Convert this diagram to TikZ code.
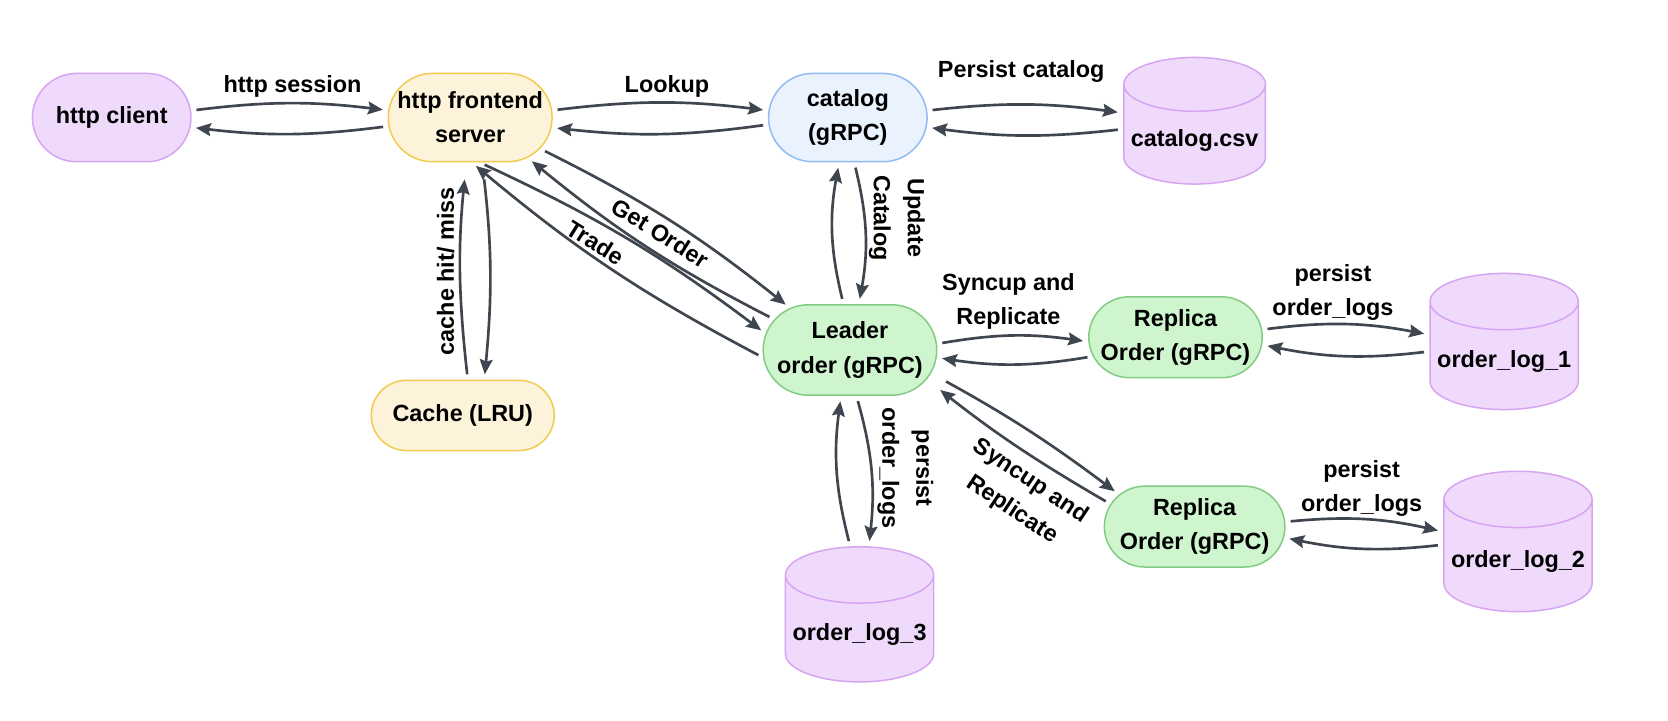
\documentclass[tikz,border=0pt]{standalone}
\usepackage{fontspec}
\setmainfont{Liberation Sans}
\usepackage{xcolor}
\usetikzlibrary{shapes.misc,shapes.geometric,arrows.meta}
\definecolor{usrfill}{HTML}{F0DAFC}
\definecolor{usrline}{HTML}{D6A4F0}
\definecolor{webfill}{HTML}{FCF3DA}
\definecolor{webline}{HTML}{F2CB4E}
\definecolor{catfill}{HTML}{EAF2FE}
\definecolor{catline}{HTML}{90BAF2}
\definecolor{ordfill}{HTML}{CFF5CF}
\definecolor{ordline}{HTML}{82CC82}
\definecolor{flowcol}{HTML}{40464F}

\begin{document}
\begin{tikzpicture}[x=0.5pt,y=-0.5pt]
%% CONFIG
\def\fontS{\bfseries\fontsize{11}{16}\selectfont}
\def\hSvc{41.5pt}

% define the styles
\tikzset{
    svc/.style={rounded rectangle, draw, line width=0.7pt, align=center, font=\fontS, inner sep=2pt},
    usr/.style={svc, fill=usrfill, draw=usrline},
    web/.style={svc, fill=webfill, draw=webline},
    cat/.style={svc, fill=catfill, draw=catline},
    ord/.style={svc, fill=ordfill, draw=ordline},
    dbstore/.style={cylinder, shape border rotate=90, aspect=0.38, draw=usrline, fill=usrfill, line width=0.7pt, font=\fontS, anchor=shape center},
    flow/.style={draw=flowcol, line width=1.25pt, -{Stealth[length=7pt,width=6pt,inset=1pt]}, shorten >=2.5pt, shorten <=2.5pt},
    lbl/.style={font=\fontS, align=center, text=black}
}

%% Macro for a pair of opposite flows
% 1: bend
% 2: node a
% 3: node b
% 4,5: anchors a -> b
% 6,7: anchors b -> a
\newcommand{\dualflow}[7][7]{
    \draw [flow] (#2.#4) to[bend left=#1] (#3.#5);
    \draw [flow] (#3.#6) to[bend left=#1] (#2.#7);
}

\fill [white] (0,0) rectangle (1568,677);
\useasboundingbox (0,0) rectangle (1568,677);

% Draw the services
\node[usr, minimum width=78.5pt, minimum height=\hSvc] (http_client) at (105,110.5) {http client};
\node[web, minimum width=81pt, minimum height=\hSvc] (http_front) at (442,110.5) {http frontend\\server};
\node[cat, minimum width=78.5pt, minimum height=\hSvc] (catalog_srv) at (797,110.5) {catalog\\(gRPC)};
\node[web, minimum width=90pt, minimum height=33pt] (cache_lru) at (435,390.5) {Cache (LRU)};
\node[ord, minimum width=80.5pt, minimum height=42.5pt] (leader_ord) at (799,329) {Leader\\order (gRPC)};
\node[ord, minimum width=85.5pt, minimum height=38pt] (replica1) at (1105,317) {Replica\\Order (gRPC)};
\node[ord, minimum width=84.5pt, minimum height=38pt] (replica2) at (1123,495) {Replica\\Order (gRPC)};

% Draw the stores
\node[dbstore, minimum width=65.75pt, minimum height=59.5pt] (catalog_csv) at (1123,113.5) {catalog.csv};
\foreach \i/\xx/\yy/\ww/\hh in {1/1414/321/68.5/64, 2/1427/509/68.5/66, 3/808/577.5/68/63.5}{
    \node[dbstore, minimum width=\ww pt, minimum height=\hh pt] (order_log\i) at (\xx,\yy) {order\_log\_\i};
}

% Connectors between services
\dualflow{http_client}{http_front}{5}{175}{186}{-7}
\dualflow{http_front}{catalog_srv}{5}{175}{185}{-7}
\dualflow{catalog_srv}{catalog_csv}{5}{159}{171}{-7}
\dualflow[12]{leader_ord}{catalog_srv}{98}{-101}{-82}{79}
\dualflow[6]{http_front}{leader_ord}{-24}{145}{158}{-35}
\dualflow[6]{http_front}{leader_ord}{-78}{169}{185}{-88}
\dualflow[9]{leader_ord}{replica1}{4}{183}{193}{-5}
\dualflow[9]{replica1}{order_log1}{5}{160}{172}{-5}
\dualflow[9]{replica2}{order_log2}{3}{158}{167}{-7}
\dualflow[11]{order_log3}{leader_ord}{96}{-101}{-82}{84}

% Cache and second replica keep a gap
\draw [flow, shorten >=8pt] (cache_lru.82) to[bend left=6] (http_front.-95);
\draw [flow, shorten <=8pt] (http_front.-75) to[bend left=6] (cache_lru.59);
\draw [flow, shorten <=8pt] (leader_ord.-16) to[bend left=4] (replica2.157);
\draw [flow, shorten >=8pt] (replica2.165) to[bend left=4] (leader_ord.-21);

% Draw labels
\node[lbl] (lbl_session) at (275,81) {http session};
\node[lbl] (lbl_lookup) at (627,81) {Lookup};
\node[lbl] (lbl_persist) at (960,67) {Persist catalog};
\node[lbl, rotate=-90] (lbl_update) at (843,205) {Update\\Catalog};
\node[lbl, rotate=90] (lbl_cache) at (419,255) {cache hit/ miss};
\node[lbl, rotate=-32] (lbl_get) at (621,219) {Get Order};
\node[lbl, rotate=-32] (lbl_trade) at (560,228) {Trade};
\node[lbl] (lbl_sync1) at (948,283.5) {Syncup and\\Replicate};
\node[lbl, rotate=-33.5] (lbl_sync2) at (960,466) {Syncup and\\Replicate};
\node[lbl] (lbl_plog1) at (1253,275) {persist\\order\_logs};
\node[lbl] (lbl_plog2) at (1280,459) {persist\\order\_logs};
\node[lbl, rotate=-90] (lbl_plog3) at (851,440) {persist\\order\_logs};

\end{tikzpicture}
\end{document}
